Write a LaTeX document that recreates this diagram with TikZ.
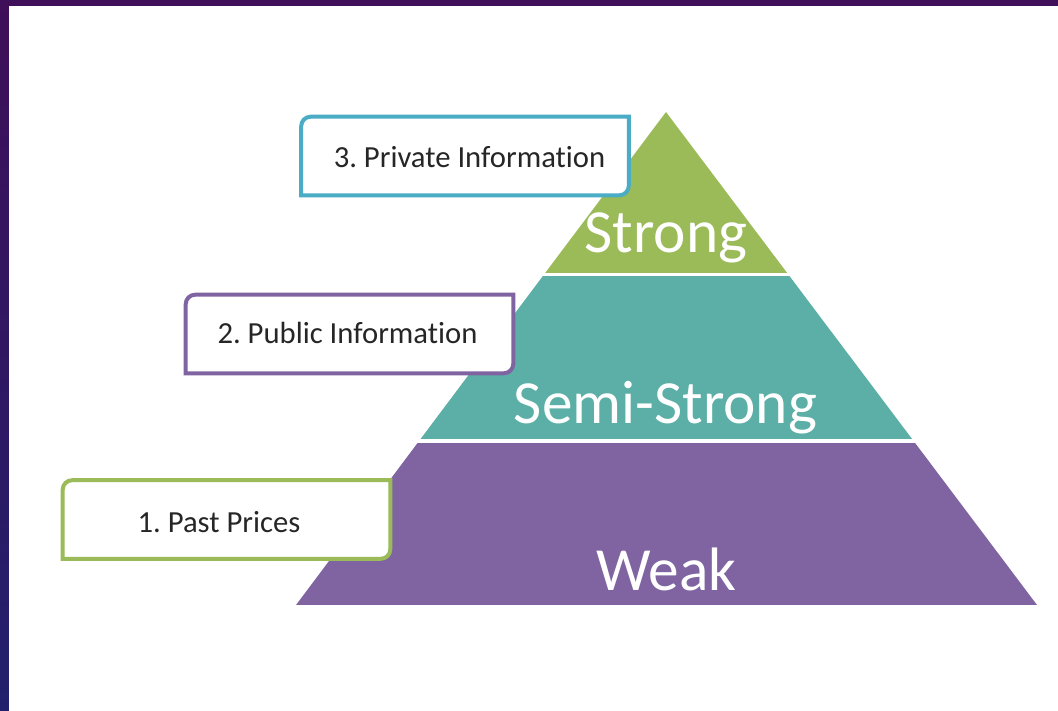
\documentclass[tikz,border=0pt]{standalone}
\usepackage{fontspec}
\setmainfont{Carlito}[Ligatures={NoCommon}]
\frenchspacing
\usetikzlibrary{calc}
\definecolor{frametop}{HTML}{3F0F59}
\definecolor{framebot}{HTML}{22206C}
\definecolor{lvgreen}{HTML}{9BBB59}
\definecolor{lvteal}{HTML}{5BAFA6}
\definecolor{lvpurple}{HTML}{8064A2}
\definecolor{lvaqua}{HTML}{4BACC6}
\definecolor{labeltext}{HTML}{262626}
\tikzset{
  boxnode/.style={minimum width=245.25pt, minimum height=58.5pt, inner sep=0pt},
  boxtext/.style={anchor=base, text=labeltext, font=\fontsize{23}{27}\selectfont, inner sep=0pt},
  leveltext/.style={anchor=base, text=white, font=\fontsize{46}{52}\selectfont, inner sep=0pt},
  gapline/.style={white, line width=2.7pt},
}
% white box with rounded top-left and bottom-right corners only
\newcommand{\diagbox}[2]{%
  \filldraw[fill=white, draw=#2, line width=3pt]
    (#1.south west) -- ([yshift=-7pt]#1.north west)
    arc[start angle=180, end angle=90, radius=7pt]
    -- (#1.north east) -- ([yshift=7pt]#1.south east)
    arc[start angle=0, end angle=-90, radius=7pt] -- cycle;}
\begin{document}
\begin{tikzpicture}[x=0.75pt, y=0.75pt]
  % frame and white page
  \shade[top color=frametop, bottom color=framebot] (0,0) rectangle (1058,711);
  \fill[white] (9,0) rectangle (1058,705);
  \useasboundingbox (0,0) rectangle (1058,711);

  % pyramid
  \coordinate (apex) at (666,599);
  \coordinate (bl) at (296,106);
  \coordinate (br) at (1037,106);
  \begin{scope}
    \clip (apex) -- (bl) -- (br) -- cycle;
    \fill[lvgreen] (290,436.5) rectangle (1040,605);
    \fill[lvteal] (290,270) rectangle (1040,436.5);
    \fill[lvpurple] (290,100) rectangle (1040,270);
  \end{scope}
  \draw[gapline] (290,436.5) -- (1040,436.5);
  \draw[gapline] (290,270) -- (1040,270);

  \node[leveltext] (strong) at (666,458) {Strong};
  \node[leveltext] (semi) at (665.5,287) {Semi-Strong};
  \node[leveltext] (weak) at (666.5,120) {Weak};

  % information boxes
  \node[boxnode] (b3) at (465,555) {};
  \node[boxnode] (b2) at (349.5,377) {};
  \node[boxnode] (b1) at (226.5,191.5) {};
  \diagbox{b3}{lvaqua}
  \diagbox{b2}{lvpurple}
  \diagbox{b1}{lvgreen}

  \node[boxtext] (t3) at (469.5,543) {3. Private Information};
  \node[boxtext] (t2) at (347.5,367) {2. Public Information};
  \node[boxtext] (t1) at (219,178) {1. Past Prices};
\end{tikzpicture}
\end{document}
